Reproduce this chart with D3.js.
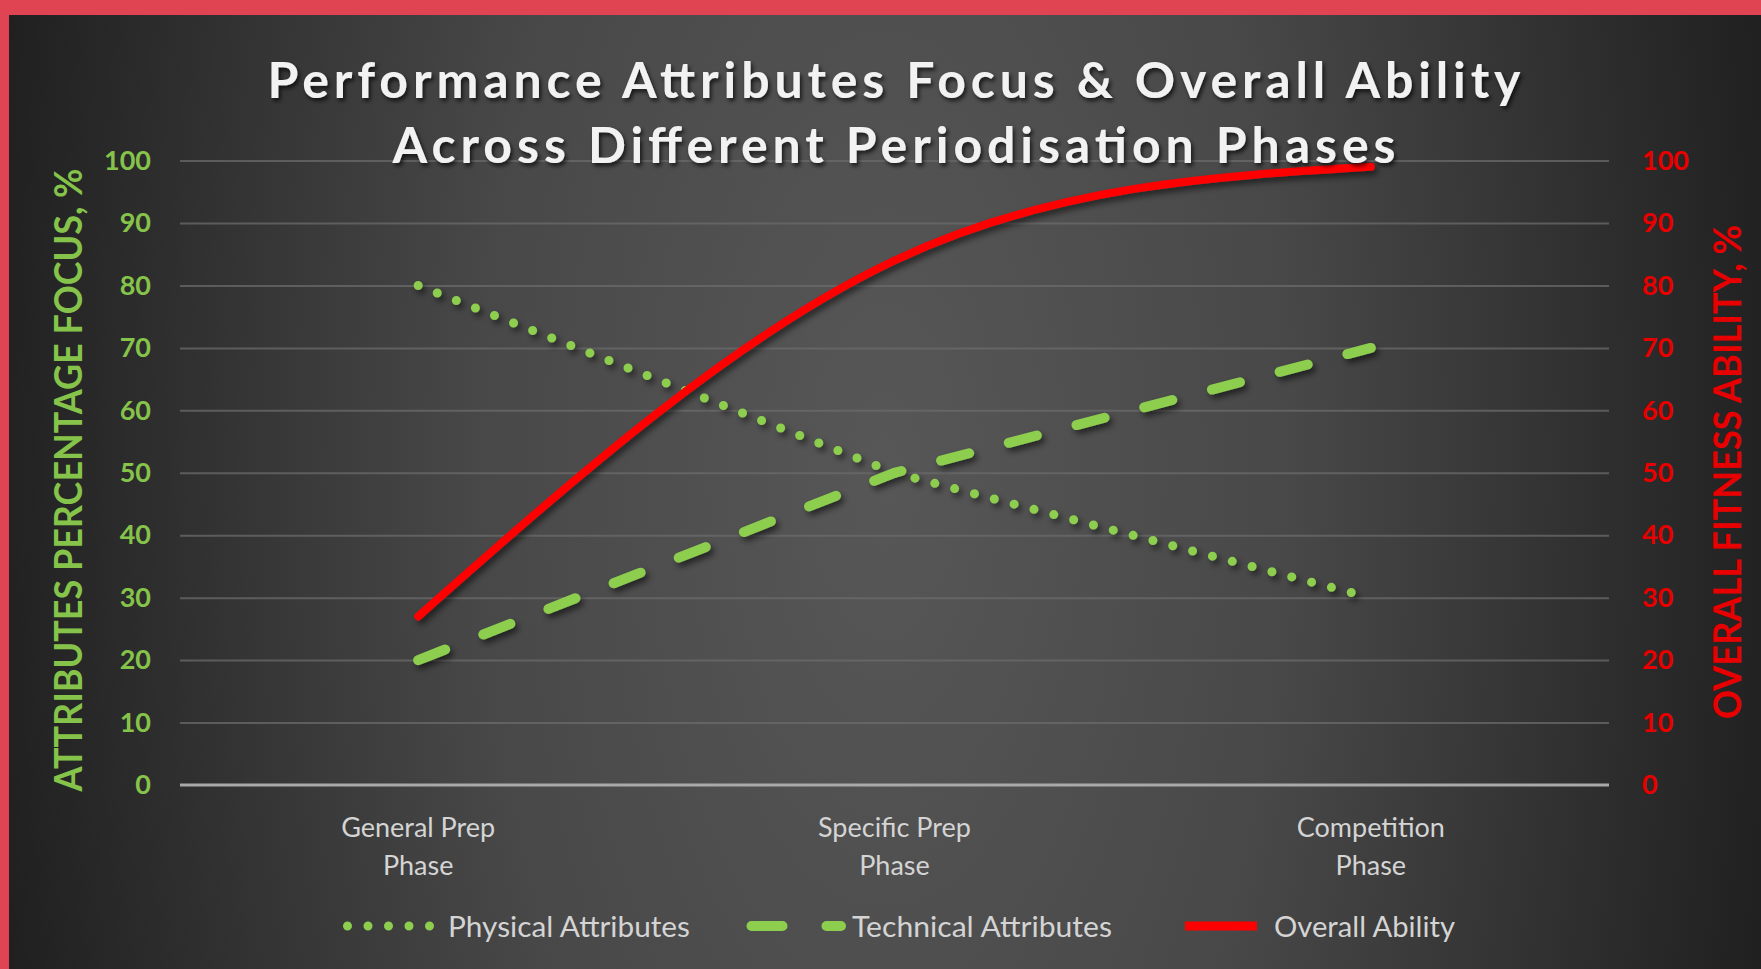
<!DOCTYPE html>
<html>
<head>
<meta charset="utf-8">
<script src="https://cdn.jsdelivr.net/npm/d3@7"></script>
<style>
  html, body { margin: 0; padding: 0; background: #222; overflow: hidden; }
  svg { display: block; }
</style>
</head>
<body>
<svg id="chart" width="1761" height="969"></svg>
<script>
// ---- data ----
const phases = ["General Prep Phase", "Specific Prep Phase", "Competition Phase"];
const phaseLines = [["General Prep", "Phase"], ["Specific Prep", "Phase"], ["Competition", "Phase"]];
const physicalFocus = [80, 50, 30];     // % focus, left axis
const technicalFocus = [20, 50, 70];    // % focus, left axis
const overallAbility = [27, 84, 99];    // % ability, right axis
const leftTicks = [0, 10, 20, 30, 40, 50, 60, 70, 80, 90, 100];
const rightTicks = [0, 10, 20, 30, 40, 50, 60, 70, 80, 90, 100];
const seriesNames = ["Physical Attributes", "Technical Attributes", "Overall Ability"];
const titleLines = ["Performance Attributes Focus & Overall Ability", "Across Different Periodisation Phases"];
const leftAxisTitle = "ATTRIBUTES PERCENTAGE FOCUS, %";
const rightAxisTitle = "OVERALL FITNESS ABILITY, %";

// ---- styling ----
const W = 1761, H = 969;
const GREEN = "#8dce4f", GREEN_TXT = "#86c34a", RED = "#ff0000", RED_TXT = "#e80000";
const plot = { left: 180, right: 1609, top: 160.6, bottom: 785 };

const svg = d3.select("#chart");
const defs = svg.append("defs");

// background: dark edges, lighter middle
const bg = defs.append("radialGradient")
  .attr("id", "bgGrad")
  .attr("gradientUnits", "userSpaceOnUse")
  .attr("cx", 885).attr("cy", 470).attr("r", 900)
  .attr("gradientTransform", "translate(885,470) scale(1,2.2) translate(-885,-470)");
bg.append("stop").attr("offset", "0").attr("stop-color", "#575757");
bg.append("stop").attr("offset", "0.45").attr("stop-color", "#484848");
bg.append("stop").attr("offset", "1").attr("stop-color", "#202020");

const shadow = defs.append("filter").attr("id", "shadow")
  .attr("x", "-10%").attr("y", "-10%").attr("width", "120%").attr("height", "130%");
shadow.append("feDropShadow").attr("dx", 3).attr("dy", 4)
  .attr("stdDeviation", 3).attr("flood-color", "#000").attr("flood-opacity", 0.55);

const textShadow = defs.append("filter").attr("id", "textShadow")
  .attr("x", "-5%").attr("y", "-30%").attr("width", "110%").attr("height", "160%");
textShadow.append("feDropShadow").attr("dx", 2).attr("dy", 3)
  .attr("stdDeviation", 2).attr("flood-color", "#000").attr("flood-opacity", 0.7);

svg.append("rect").attr("width", W).attr("height", H).attr("fill", "url(#bgGrad)");

// red frame on top and left
svg.append("rect").attr("x", 0).attr("y", 0).attr("width", W).attr("height", 15).attr("fill", "#e04452");
svg.append("rect").attr("x", 0).attr("y", 0).attr("width", 9).attr("height", H).attr("fill", "#e04452");

// ---- scales ----
const x = d3.scalePoint().domain(phases).range([plot.left, plot.right]).padding(0.5);
const yL = d3.scaleLinear().domain([0, 100]).range([plot.bottom, plot.top]);
const yR = d3.scaleLinear().domain([0, 100]).range([plot.bottom, plot.top]);

// ---- gridlines ----
const grid = svg.append("g").attr("transform", `translate(${plot.left},0)`)
  .call(d3.axisLeft(yL).tickValues(leftTicks.filter(t => t > 0))
    .tickSize(-(plot.right - plot.left)).tickFormat(""));
grid.select(".domain").remove();
grid.selectAll(".tick line").attr("stroke", "#6b6b6b").attr("stroke-width", 2).attr("stroke-opacity", 0.75);

// baseline
svg.append("line")
  .attr("x1", plot.left).attr("x2", plot.right)
  .attr("y1", yL(0)).attr("y2", yL(0))
  .attr("stroke", "#a9a9a9").attr("stroke-width", 3);

// ---- axes labels ----
const axL = svg.append("g").attr("transform", `translate(${plot.left},0)`)
  .call(d3.axisLeft(yL).tickValues(leftTicks).tickSize(0).tickPadding(29));
axL.select(".domain").remove();
axL.selectAll("text")
  .attr("fill", GREEN_TXT).attr("font-family", "Lato, 'Open Sans', sans-serif")
  .attr("font-weight", "bold").attr("font-size", 27);

const axR = svg.append("g").attr("transform", `translate(${plot.right},0)`)
  .call(d3.axisRight(yR).tickValues(rightTicks).tickSize(0).tickPadding(33));
axR.select(".domain").remove();
axR.selectAll("text")
  .attr("fill", RED_TXT).attr("font-family", "Lato, 'Open Sans', sans-serif")
  .attr("font-weight", "bold").attr("font-size", 27);

// category labels (two lines each)
const cat = svg.append("g").selectAll("text").data(phases).join("text")
  .attr("x", d => x(d)).attr("y", 826)
  .attr("text-anchor", "middle")
  .attr("fill", "#d4d4d4")
  .attr("font-family", "Lato, 'Open Sans', sans-serif")
  .attr("font-size", 27);
cat.each(function(d, i) {
  const t = d3.select(this);
  phaseLines[i].forEach((ln, j) => {
    t.append("tspan").attr("x", x(d)).attr("y", 826 + j * 38)
      .attr("dominant-baseline", "central").text(ln);
  });
});

// axis titles
svg.append("text")
  .attr("transform", "translate(67,480) rotate(-90)")
  .attr("text-anchor", "middle").attr("dominant-baseline", "central")
  .attr("fill", GREEN_TXT).attr("font-family", "Lato, 'Open Sans', sans-serif")
  .attr("font-weight", "bold").attr("font-size", 38)
  .attr("textLength", 623).attr("lengthAdjust", "spacingAndGlyphs")
  .text(leftAxisTitle);

svg.append("text")
  .attr("transform", "translate(1726,472) rotate(-90)")
  .attr("text-anchor", "middle").attr("dominant-baseline", "central")
  .attr("fill", RED_TXT).attr("font-family", "Lato, 'Open Sans', sans-serif")
  .attr("font-weight", "bold").attr("font-size", 38)
  .attr("textLength", 494).attr("lengthAdjust", "spacingAndGlyphs")
  .text(rightAxisTitle);

// ---- series ----
const idx = d3.range(phases.length);
const lineL = vals => d3.line().x(i => x(phases[i])).y(i => yL(vals[i]))(idx);
const smoothR = vals => d3.line().x(i => x(phases[i])).y(i => yR(vals[i]))
  .curve(d3.curveNatural)(idx);

const series = svg.append("g").attr("filter", "url(#shadow)");

series.append("path").attr("d", lineL(physicalFocus))
  .attr("fill", "none").attr("stroke", GREEN).attr("stroke-width", 9)
  .attr("stroke-linecap", "round").attr("stroke-dasharray", "0 20.5");

series.append("path").attr("d", lineL(technicalFocus))
  .attr("fill", "none").attr("stroke", GREEN).attr("stroke-width", 10)
  .attr("stroke-linecap", "round").attr("stroke-dasharray", "29 41");

series.append("path").attr("d", smoothR(overallAbility))
  .attr("fill", "none").attr("stroke", RED).attr("stroke-width", 8)
  .attr("stroke-linecap", "round");

// ---- title ----
const title = svg.append("g").attr("filter", "url(#textShadow)");
[[98, titleLines[0], 1253], [163, titleLines[1], 1003]].forEach(([yy, txt, len]) => {
  title.append("text")
    .attr("x", 894).attr("y", yy).attr("text-anchor", "middle")
    .attr("fill", "#f2f2f2").attr("font-family", "Lato, 'Open Sans', sans-serif")
    .attr("font-weight", "bold").attr("font-size", 50)
    .attr("textLength", len).attr("lengthAdjust", "spacing")
    .text(txt);
});

// ---- legend ----
const legendY = 926;
const legend = svg.append("g");
const legendItems = [
  { name: seriesNames[0], x1: 347.5, x2: 430, dash: "0 20.5", cap: "round", color: GREEN, w: 9, tx: 448, tl: 242 },
  { name: seriesNames[1], x1: 751.5, x2: 841, dash: "31 44", cap: "round", color: GREEN, w: 10, tx: 852, tl: 260 },
  { name: seriesNames[2], x1: 1185, x2: 1257, dash: null, cap: "butt", color: RED, w: 9, tx: 1274, tl: 181 }
];
legendItems.forEach(it => {
  legend.append("line")
    .attr("x1", it.x1).attr("x2", it.x2).attr("y1", legendY).attr("y2", legendY)
    .attr("stroke", it.color).attr("stroke-width", it.w)
    .attr("stroke-linecap", it.cap)
    .attr("stroke-dasharray", it.dash);
  legend.append("text")
    .attr("x", it.tx).attr("y", legendY).attr("dominant-baseline", "central")
    .attr("fill", "#d4d4d4").attr("font-family", "Lato, 'Open Sans', sans-serif")
    .attr("font-size", 28)
    .attr("textLength", it.tl).attr("lengthAdjust", "spacingAndGlyphs")
    .text(it.name);
});
</script>
</body>
</html>
